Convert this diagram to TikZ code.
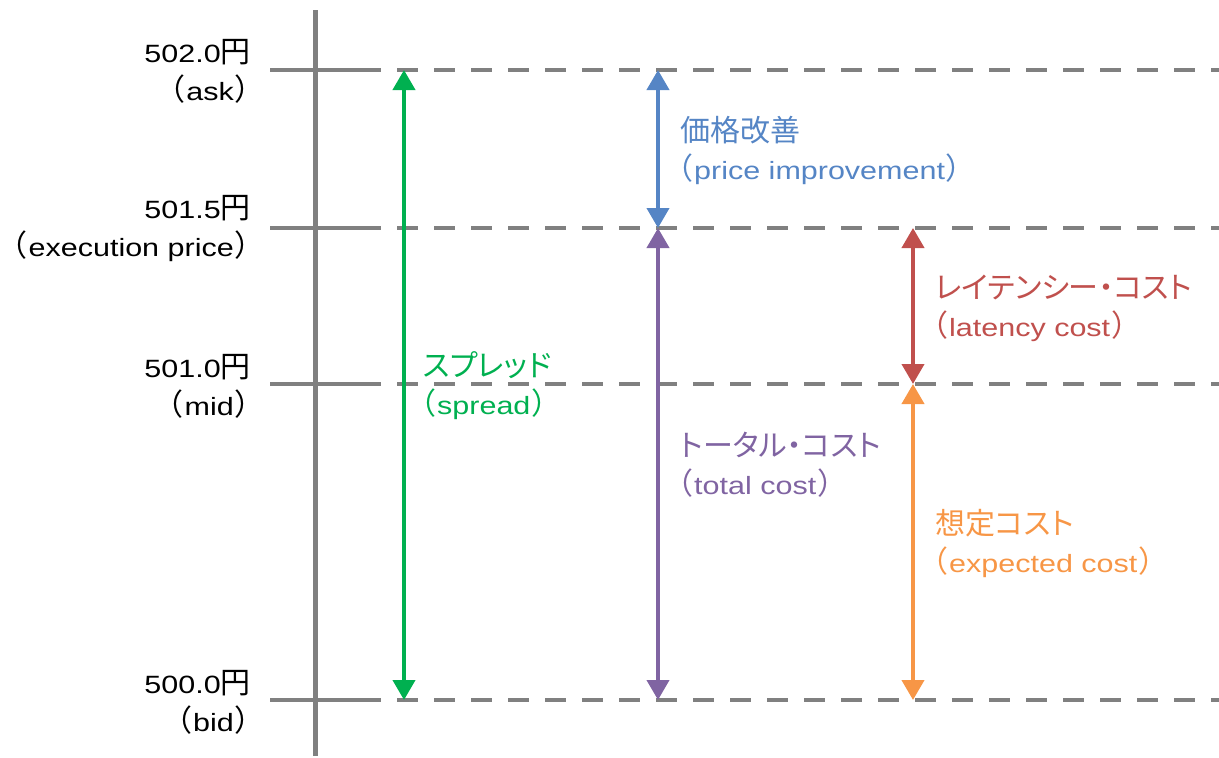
\documentclass[tikz,border=0pt]{standalone}
\usepackage{fontspec}
\setmainfont[FakeStretch=1.22]{Liberation Sans}
\newfontfamily\jpf[RawFeature=+palt]{Noto Sans CJK JP}
\newcommand{\J}[1]{{\jpf\fontsize{30pt}{38pt}\selectfont #1}}
\newcommand{\LP}{\J{（}\kern2pt}
\newcommand{\RP}{\kern2pt\J{）}}
\usetikzlibrary{arrows.meta}
\definecolor{axgray}{HTML}{808080}
\definecolor{cgreen}{HTML}{00B050}
\definecolor{cblue}{HTML}{5585C5}
\definecolor{cpurple}{HTML}{8064A2}
\definecolor{cred}{HTML}{C0504D}
\definecolor{corange}{HTML}{F79646}
\tikzset{
  axis/.style={draw=axgray, line width=5pt},
  level/.style={draw=axgray, line width=4.5pt, dash pattern=on 21pt off 16pt},
  tick/.style={draw=axgray, line width=4.5pt},
  span/.style={line width=4pt, {Triangle[width=22pt,length=20pt]}-{Triangle[width=22pt,length=20pt]}},
  price/.style={anchor=east, align=right, inner sep=0pt, font=\fontsize{25pt}{38pt}\selectfont},
  lab/.style={anchor=west, align=left, inner sep=0pt, font=\fontsize{25pt}{38pt}\selectfont},
}
\begin{document}
\begin{tikzpicture}[x=1pt,y=-1pt]
\useasboundingbox (0,0) rectangle (1219,758);
% axis
\coordinate (axT) at (315,10);
\coordinate (axB) at (315,756);
\draw[axis] (axT) -- (axB);
% levels
\foreach \n/\y in {ask/70, exe/228, mid/384, bid/700}{
  \coordinate (\n L) at (270,\y);
  \coordinate (\n M) at (360,\y);
  \coordinate (\n R) at (1219,\y);
  \draw[tick] (\n L) -- (\n M);
  \draw[level] (\n M) -- (\n R);
}
% price labels
\node[price] (pask) at (251,71) {502.0\J{円}\\\LP ask\RP};
\node[price] (pexe) at (251,229) {501.5\J{円}\\\LP execution price\RP};
\node[price] (pmid) at (251,386) {501.0\J{円}\\\LP mid\RP};
\node[price] (pbid) at (251,702) {500.0\J{円}\\\LP bid\RP};
% arrow endpoints
\coordinate (gT) at (404,70);  \coordinate (gB) at (404,700);
\coordinate (bT) at (658,70);  \coordinate (bB) at (658,228);
\coordinate (pT) at (658,228); \coordinate (pB) at (658,700);
\coordinate (rT) at (913,228); \coordinate (rB) at (913,384);
\coordinate (oT) at (913,384); \coordinate (oB) at (913,700);
\draw[span, cgreen] (gT) -- (gB);
\draw[span, cblue] (bT) -- (bB);
\draw[span, cpurple] (pT) -- (pB);
\draw[span, cred] (rT) -- (rB);
\draw[span, corange] (oT) -- (oB);
% labels
\node[lab, text=cgreen] (lg) at (420,386) {\J{\hspace{3pt}スプレッド}\\\LP spread\RP};
\node[lab, text=cblue] (lb) at (677,150) {\J{\hspace{3pt}価格改善}\\\LP price improvement\RP};
\node[lab, text=cred] (lr) at (932,308) {\J{\hspace{3pt}レイテンシー・コスト}\\\LP latency cost\RP};
\node[lab, text=cpurple] (lp) at (677,465) {\J{\hspace{3pt}トータル・コスト}\\\LP total cost\RP};
\node[lab, text=corange] (lo) at (932,543) {\J{\hspace{3pt}想定コスト}\\\LP expected cost\RP};
\end{tikzpicture}
\end{document}
